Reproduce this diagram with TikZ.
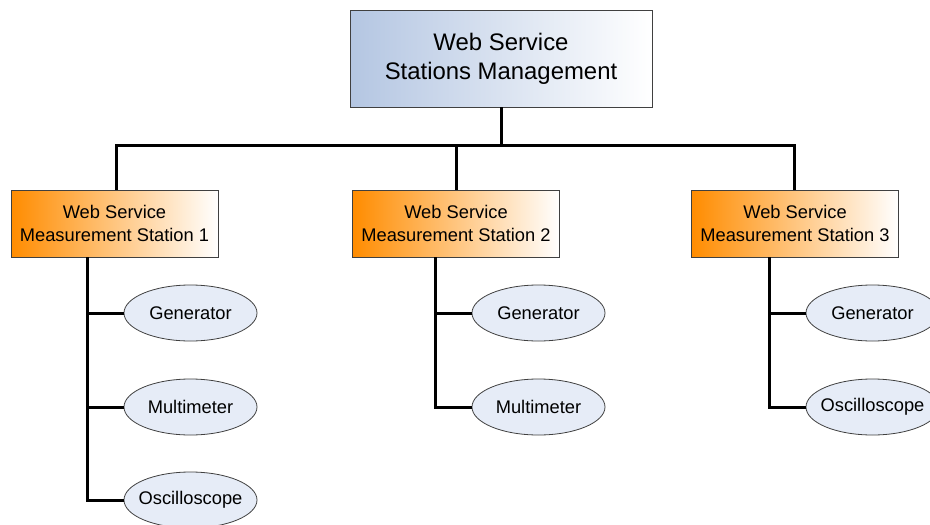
\documentclass[tikz,border=0pt]{standalone}
\usepackage{fontspec}
\setmainfont{Liberation Sans}
\usetikzlibrary{shapes.geometric}
\definecolor{topblue}{HTML}{B4C6E2}
\definecolor{stor}{HTML}{FF8C00}
\definecolor{ellfill}{HTML}{E6ECF7}
\definecolor{bordergray}{HTML}{404040}
\tikzset{
  topbox/.style={draw=bordergray, line width=0.9pt, left color=topblue, right color=white, shading angle=90, minimum width=302pt, minimum height=97pt, inner sep=0pt, align=center, font=\fontsize{23.9}{29}\selectfont},
  stationbox/.style={draw=bordergray, line width=0.9pt, left color=stor, right color=white, minimum width=207pt, minimum height=67pt, inner sep=0pt, align=center, font=\fontsize{18.3}{23}\selectfont},
  device/.style={ellipse, draw=bordergray, line width=0.8pt, fill=ellfill, minimum width=133pt, minimum height=56pt, inner sep=0pt, font=\fontsize{18.3}{20}\selectfont},
  conn/.style={line width=3pt, black},
}
\newcommand{\devtxt}[1]{\makebox[0pt][c]{#1}}
\begin{document}
\begin{tikzpicture}[x=1pt,y=-1pt]
\useasboundingbox (0,0) rectangle (930,525);
\clip (0,0) rectangle (930,525);
\node[topbox] (top) at (501,58.5) {Web Service\\Stations Management};
\node[stationbox] (s1) at (114.5,223.5) {Web Service\\Measurement Station 1};
\node[stationbox] (s2) at (456,223.5) {Web Service\\Measurement Station 2};
\node[stationbox] (s3) at (795,223.5) {Web Service\\Measurement Station 3};

\node[device] (g1) at (190.5,313) {\devtxt{Generator}};
\node[device] (m1) at (190.5,407) {\devtxt{Multimeter}};
\node[device] (o1) at (190.5,500) {\devtxt{Oscilloscope}};
\node[device] (g2) at (538.5,313) {\devtxt{Generator}};
\node[device] (m2) at (538.5,407) {\devtxt{Multimeter}};
\node[device] (g3) at (872.5,313) {\devtxt{Generator}};
\node[device] (o3) at (872.5,407) {\devtxt{Oscilloscope}};

\coordinate (bus) at (501,145);
\coordinate (t1) at (87,0);
\coordinate (t2) at (435,0);
\coordinate (t3) at (769,0);

\draw[conn] (top.south) -- (bus);
\draw[conn] (s1.north -| 116,0) |- (bus);
\draw[conn] (s2.north) -- (s2.north |- bus);
\draw[conn] (s3.north -| 794,0) |- (bus);

\draw[conn] (s1.south -| t1) |- (o1.west);
\draw[conn] (g1.west) -- (g1.west -| t1);
\draw[conn] (m1.west) -- (m1.west -| t1);

\draw[conn] (s2.south -| t2) |- (m2.west);
\draw[conn] (g2.west) -- (g2.west -| t2);

\draw[conn] (s3.south -| t3) |- (o3.west);
\draw[conn] (g3.west) -- (g3.west -| t3);
\end{tikzpicture}
\end{document}
